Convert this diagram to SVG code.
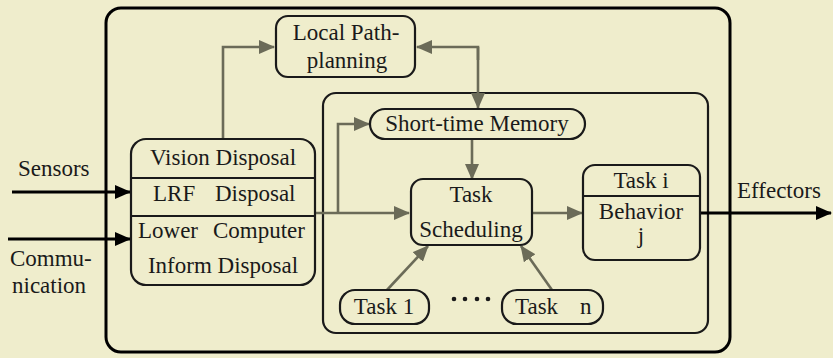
<svg xmlns="http://www.w3.org/2000/svg" width="833" height="358" viewBox="0 0 833 358">
<defs>
<marker id="ag" markerUnits="userSpaceOnUse" markerWidth="16" markerHeight="14" refX="15" refY="7" orient="auto"><path d="M0,0 L16,7 L0,14 Z" fill="#6b6b58"/></marker>
<marker id="ab" markerUnits="userSpaceOnUse" markerWidth="16" markerHeight="14" refX="15" refY="7" orient="auto"><path d="M0,0 L16,7 L0,14 Z" fill="#000"/></marker>
<style>
.box{fill:none;stroke:#1a1a1a;stroke-width:2.2}
.g{fill:none;stroke:#6b6b58;stroke-width:2.6}
.b{fill:none;stroke:#000;stroke-width:3.2}
.m{text-anchor:middle}
</style>
</defs>
<rect width="833" height="358" fill="#efedcc"/>
<g id="outer"><rect x="106" y="8" width="624" height="344" rx="15" fill="none" stroke="#000" stroke-width="3"/></g>
<g id="inner"><rect x="323" y="93" width="385" height="240" rx="13" class="box"/></g>
<g id="connectors">
<path class="g" d="M223,139 V47 H274" marker-end="url(#ag)"/>
<path class="g" d="M478,60 V47 H417" marker-end="url(#ag)"/>
<path class="g" d="M478,47 V108" marker-end="url(#ag)"/>
<path class="g" d="M315,213 H409" marker-end="url(#ag)"/>
<path class="g" d="M338,213 V124 H369" marker-end="url(#ag)"/>
<path class="g" d="M472,139 V179" marker-end="url(#ag)"/>
<path class="g" d="M532,213 H582" marker-end="url(#ag)"/>
<path class="g" d="M387,290 L428,246" marker-end="url(#ag)"/>
<path class="g" d="M552,290 L521,246" marker-end="url(#ag)"/>
<path class="b" d="M700,213 H831" marker-end="url(#ab)"/>
<path class="b" d="M12,192 H130" marker-end="url(#ab)"/>
<path class="b" d="M8,239 H130" marker-end="url(#ab)"/>
</g>
<g font-family="Liberation Serif, serif" font-size="23" fill="#1a1a1a">
<g id="local-path">
<rect x="276" y="16" width="139" height="61" rx="12" class="box" fill="#efedcc"/>
<text x="346" y="40" class="m">Local Path-</text>
<text x="347" y="68" class="m">planning</text>
</g>
<g id="disposal">
<rect x="131" y="139" width="184" height="146" rx="15" class="box"/>
<line x1="131" y1="178" x2="315" y2="178" class="box"/>
<line x1="131" y1="216" x2="315" y2="216" class="box"/>
<text x="223" y="165" class="m">Vision Disposal</text>
<text x="153" y="201">LRF</text>
<text x="215" y="201">Disposal</text>
<text x="138" y="238">Lower</text>
<text x="213" y="238">Computer</text>
<text x="223" y="273" class="m">Inform Disposal</text>
</g>
<g id="memory">
<rect x="370" y="109" width="215" height="30" rx="15" class="box"/>
<text x="477" y="131" class="m">Short-time Memory</text>
</g>
<g id="scheduling">
<rect x="411" y="179" width="121" height="66" rx="12" class="box"/>
<text x="471" y="202" class="m">Task</text>
<text x="471" y="237" class="m">Scheduling</text>
</g>
<g id="task-i">
<rect x="583" y="165" width="117" height="95" rx="12" class="box"/>
<line x1="583" y1="196" x2="700" y2="196" class="box"/>
<text x="641" y="188" class="m">Task i</text>
<text x="641" y="219" class="m">Behavior</text>
<text x="641" y="243" class="m">j</text>
</g>
<g id="task-1">
<rect x="340" y="290" width="89" height="34" rx="15" class="box"/>
<text x="384" y="314" class="m">Task 1</text>
</g>
<g id="dots" fill="#1a1a1a">
<circle cx="454" cy="299" r="2.3"/><circle cx="465" cy="299" r="2.3"/><circle cx="477" cy="299" r="2.3"/><circle cx="488" cy="299" r="2.3"/>
</g>
<g id="task-n">
<rect x="502" y="290" width="101" height="34" rx="15" class="box"/>
<text x="515" y="314">Task</text>
<text x="580" y="314">n</text>
</g>
<g id="labels">
<text x="18" y="176">Sensors</text>
<text x="10" y="266">Commu-</text>
<text x="12" y="293">nication</text>
<text x="737" y="198">Effectors</text>
</g>
</g>
</svg>
